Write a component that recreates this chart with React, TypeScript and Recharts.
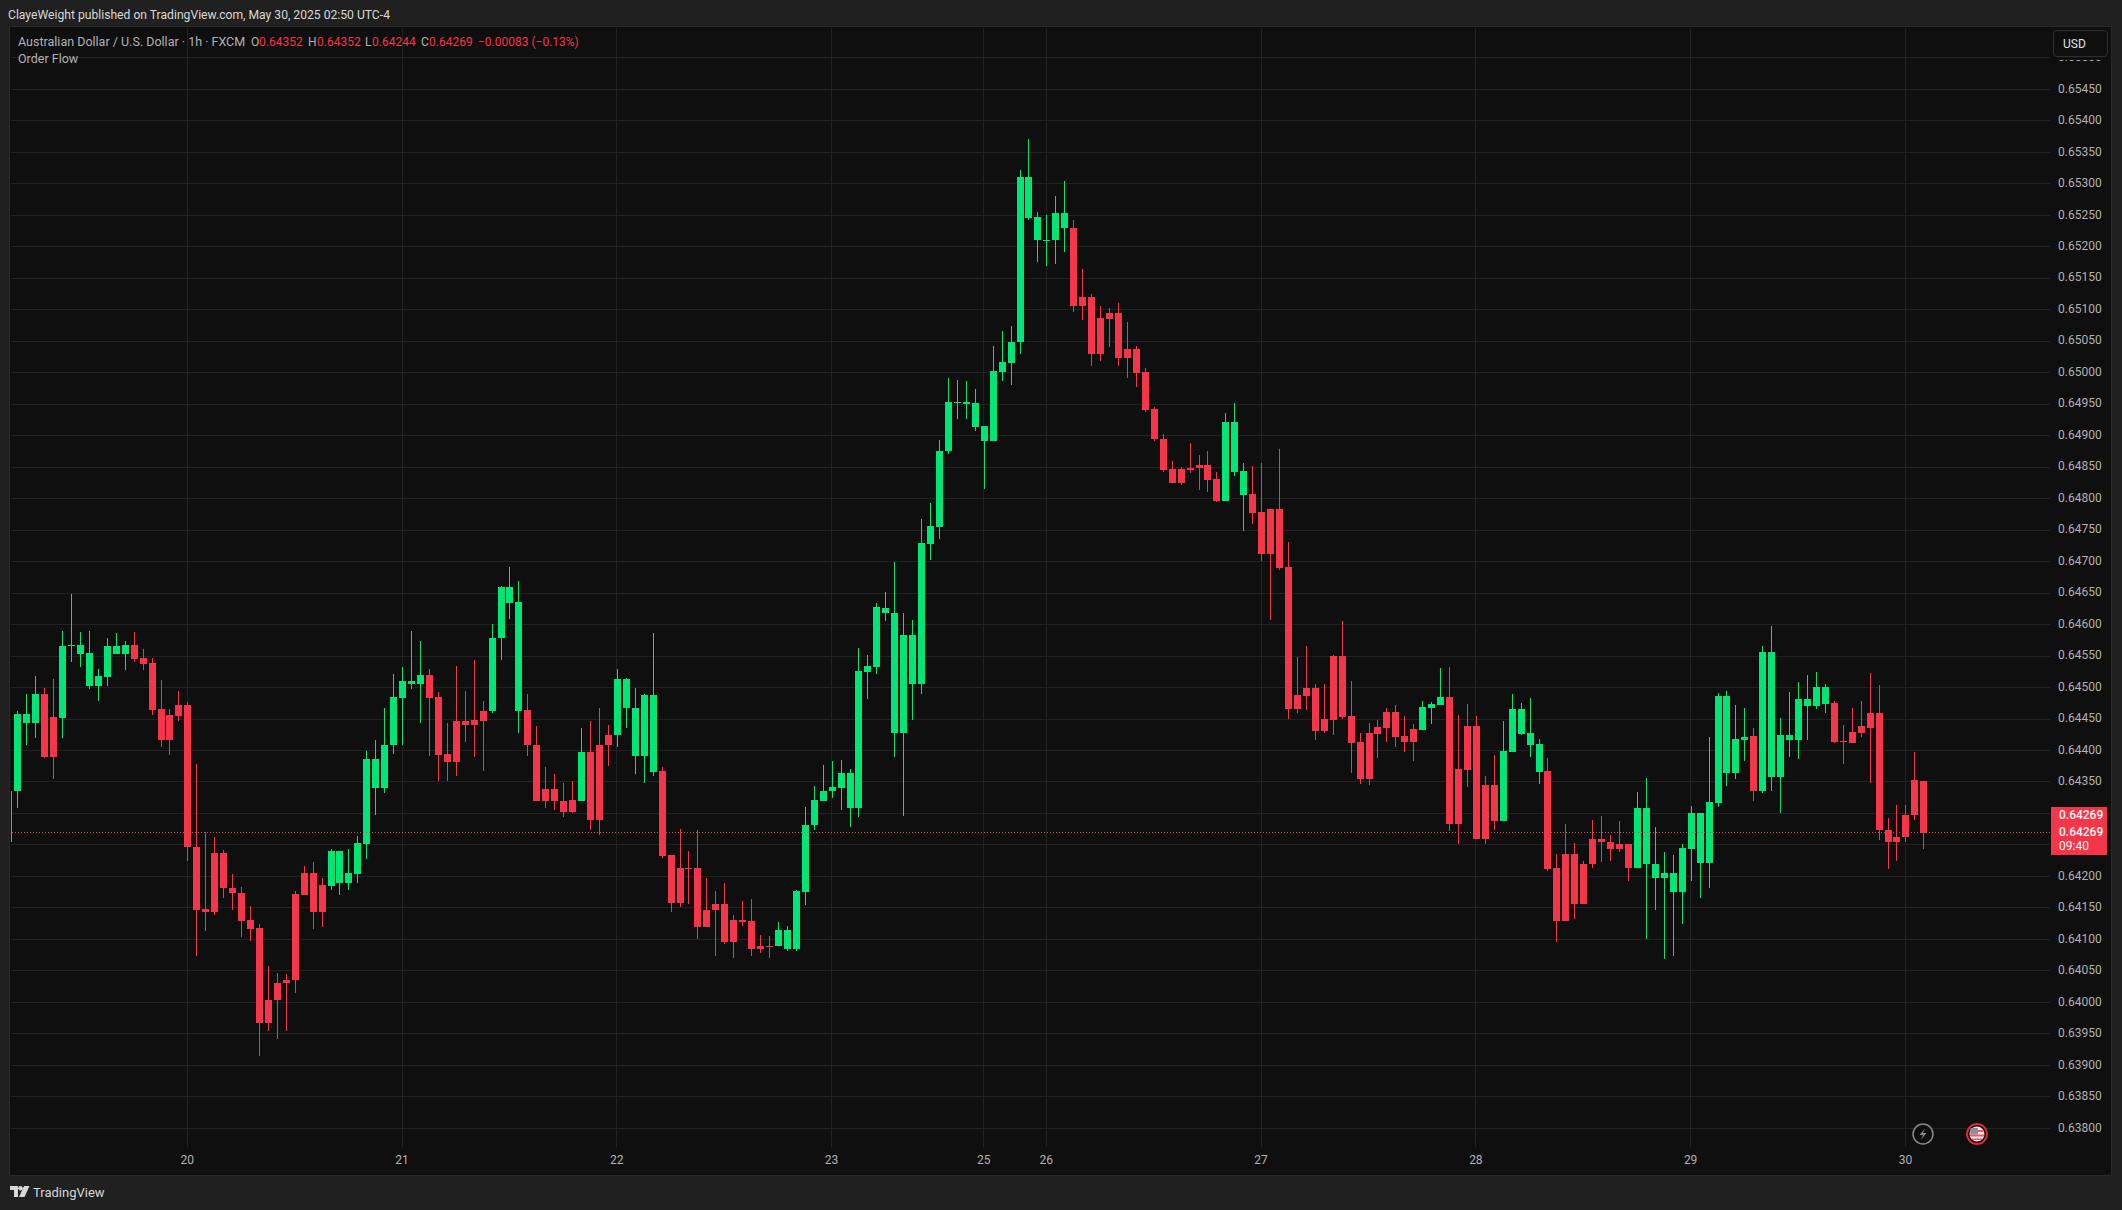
import { ComposedChart, Bar, XAxis, YAxis, CartesianGrid, ReferenceLine } from 'recharts';

// AUD/USD 1h candles, values in 1e-5 USD (64269 = 0.64269). First entry is the clipped candle at the left edge.
const opens = [64254,
  64335,64443,64443,64490,64453,64452,64566,64554,64503,64503,
  64517,64554,64554,64568,64547,64539,64466,64456,64472,64472,
  64247,64148,64237,64237,64182,64174,64131,64118,64004,64031,
  64036,64172,64206,64206,64186,64185,64190,64190,64204,64252,
  64341,64341,64408,64484,64506,64506,64520,64485,64395,64447,
  64447,64449,64463,64462,64578,64635,64463,64464,64409,64339,
  64339,64320,64321,64320,64398,64409,64425,64424,64467,64392,
  64392,64366,64368,64234,64213,64213,64213,64147,64156,64156,
  64131,64131,64129,64090,64090,64089,64084,64084,64176,64281,
  64320,64335,64341,64308,64308,64525,64533,64618,64427,64427,
  64506,64506,64728,64755,64875,64952,64951,64914,64891,64891,
  65001,65016,65048,65246,65210,65209,65210,65229,65230,65120,
  65120,65087,65095,65095,65038,65038,65001,64942,64895,64847,
  64847,64849,64853,64853,64831,64797,64842,64806,64807,64779,
  64784,64784,64692,64488,64499,64499,64450,64550,64550,64455,
  64414,64428,64437,64461,64461,64423,64434,64433,64468,64472,
  64485,64371,64439,64439,64345,64345,64288,64398,64426,64409,
  64366,64367,64213,64236,64236,64220,64259,64260,64255,64252,
  64252,64214,64219,64198,64198,64176,64176,64244,64222,64222,
  64317,64365,64365,64417,64423,64335,64358,64358,64416,64416,
  64470,64470,64474,64475,64415,64429,64439,64460,64460,64274,
  64263,64298,64353,64352];
const closes = [64336,
  64458,64458,64490,64390,64390,64566,64568,64568,64555,64518,
  64566,64566,64568,64546,64538,64465,64416,64416,64455,64246,
  64147,64143,64143,64181,64173,64130,64117,63968,63968,64003,
  64030,64035,64171,64143,64143,64240,64240,64206,64253,64387,
  64387,64409,64485,64510,64510,64520,64484,64393,64381,64381,
  64441,64441,64447,64579,64660,64660,64636,64408,64319,64319,
  64319,64303,64303,64398,64290,64290,64408,64514,64514,64468,
  64488,64488,64233,64158,64158,64212,64120,64120,64146,64096,
  64096,64128,64085,64085,64089,64115,64115,64177,64282,64321,
  64336,64342,64364,64364,64526,64534,64628,64627,64619,64583,
  64583,64730,64757,64876,64954,64954,64954,64952,64915,65003,
  65017,65049,65311,65311,65248,65211,65254,65254,65106,65106,
  65029,65029,65086,65024,65024,65000,64941,64894,64846,64825,
  64825,64846,64848,64830,64797,64922,64922,64844,64777,64712,
  64712,64690,64466,64466,64487,64431,64431,64449,64453,64412,
  64355,64355,64426,64436,64422,64414,64414,64469,64474,64485,
  64283,64283,64369,64260,64260,64288,64399,64466,64466,64428,
  64410,64212,64130,64130,64157,64157,64219,64254,64244,64244,
  64214,64309,64309,64220,64206,64206,64245,64301,64301,64318,
  64487,64487,64418,64421,64335,64556,64556,64425,64425,64482,
  64482,64501,64501,64414,64414,64412,64428,64436,64273,64255,
  64255,64262,64297,64269];
const highs = [64336,
  64463,64490,64518,64499,64514,64590,64649,64588,64590,64530,
  64579,64587,64574,64588,64561,64547,64512,64466,64495,64477,
  64379,64270,64263,64242,64204,64183,64153,64125,64058,64047,
  64045,64177,64217,64223,64198,64244,64240,64244,64264,64399,
  64417,64468,64522,64533,64590,64574,64530,64493,64444,64534,
  64495,64544,64479,64601,64661,64692,64669,64490,64439,64374,
  64363,64348,64352,64436,64447,64468,64441,64530,64515,64499,
  64490,64587,64374,64234,64275,64240,64274,64198,64177,64190,
  64139,64161,64164,64107,64105,64128,64121,64179,64310,64344,
  64377,64383,64385,64371,64563,64552,64634,64652,64700,64618,
  64607,64768,64793,64893,64992,64989,64987,64974,64915,65043,
  65066,65074,65322,65371,65255,65251,65281,65305,65243,65165,
  65125,65106,65103,65111,65081,65043,65008,64946,64903,64859,
  64851,64888,64870,64876,64843,64936,64952,64857,64852,64857,
  64784,64879,64731,64549,64566,64506,64506,64552,64606,64510,
  64428,64444,64449,64468,64472,64455,64442,64479,64477,64531,
  64533,64456,64474,64455,64360,64393,64447,64490,64476,64484,
  64418,64388,64236,64283,64253,64225,64290,64296,64266,64288,
  64252,64334,64356,64279,64239,64234,64252,64312,64301,64421,
  64491,64495,64472,64468,64436,64566,64598,64452,64493,64509,
  64520,64525,64506,64479,64441,64468,64479,64523,64504,64293,
  64314,64314,64398,64352];
const lows = [64254,
  64309,64409,64420,64388,64355,64420,64541,64533,64497,64478,
  64503,64554,64528,64541,64528,64457,64406,64393,64447,64225,
  64074,64114,64139,64165,64147,64104,64098,63915,63955,63942,
  63954,64015,64170,64117,64119,64179,64170,64179,64190,64228,
  64298,64333,64395,64408,64497,64444,64392,64351,64352,64359,
  64414,64390,64368,64460,64544,64609,64427,64392,64319,64308,
  64306,64295,64301,64320,64273,64266,64376,64406,64435,64363,
  64349,64360,64230,64143,64152,64157,64101,64120,64074,64092,
  64071,64122,64073,64079,64071,64089,64081,64082,64154,64273,
  64320,64324,64306,64278,64295,64482,64521,64606,64390,64296,
  64449,64489,64703,64736,64871,64927,64927,64908,64816,64891,
  64987,64981,65030,65242,65175,65170,65173,65192,65097,65083,
  65011,65019,65040,65011,64992,64978,64938,64891,64843,64825,
  64822,64841,64813,64811,64795,64797,64836,64749,64760,64701,
  64607,64687,64450,64460,64464,64417,64428,64425,64450,64364,
  64347,64345,64388,64414,64406,64398,64383,64433,64442,64472,
  64272,64252,64342,64260,64252,64274,64288,64398,64425,64390,
  64347,64208,64096,64129,64133,64157,64214,64223,64225,64239,
  64193,64214,64100,64147,64069,64074,64125,64192,64166,64182,
  64311,64343,64355,64384,64319,64332,64336,64300,64390,64387,
  64417,64466,64459,64412,64379,64412,64422,64349,64258,64212,
  64225,64254,64290,64244];

const dayTicks = [19, 43, 67, 91, 108, 115, 139, 163, 187, 211];
const dayLabels = ['20', '21', '22', '23', '25', '26', '27', '28', '29', '30'];
const priceTicks = [
  63800, 63850, 63900, 63950, 64000, 64050, 64100, 64150, 64200, 64250, 64300, 64350,
  64400, 64450, 64500, 64550, 64600, 64650, 64700, 64750, 64800, 64850, 64900, 64950,
  65000, 65050, 65100, 65150, 65200, 65250, 65300, 65350, 65400, 65450, 65500,
];
// these two sit behind the last price tag
const hiddenPriceTicks = [64250, 64300];
const lastPrice = 64269;
const countdown = '09:40';

const UP = '#00e676';
const DOWN = '#f5364a';
const GRID = '#222222';
const TEXT = '#b2b2b2';
const FONT = 'Roboto, sans-serif';

const candles = opens.map((open, n) => ({
  n: n - 1,
  open,
  close: closes[n],
  range: [lows[n], highs[n]],
}));

const fmtPrice = (v: number) => (v / 100000).toFixed(5);

// Bar gets the low..high span, body position is worked out from it
function Candle(props: any) {
  const { x, y, width, height, payload } = props;
  const [low, high] = payload.range;
  const perPoint = height / (high - low);
  const yOf = (v: number) => y + (high - v) * perPoint;
  const color = payload.close >= payload.open ? UP : DOWN;
  const top = yOf(Math.max(payload.open, payload.close));
  const bottom = yOf(Math.min(payload.open, payload.close));
  const mid = Math.round(x + width / 2);
  return (
    <g shapeRendering="crispEdges">
      <rect x={mid - 0.5} y={y} width={1} height={height} fill={color} />
      <rect x={mid - 3.5} y={top} width={7} height={Math.max(bottom - top, 1)} fill={color} />
    </g>
  );
}

const label = (x: number, y: number, extra: any = {}) => ({
  position: 'absolute' as const, left: x, top: y, fontFamily: FONT, fontSize: 12,
  lineHeight: '14px', color: TEXT, whiteSpace: 'nowrap' as const, ...extra,
});

export default function App() {
  return (
    <div style={{ position: 'absolute', left: 0, top: 0, width: 2122, height: 1210, background: '#202020', overflow: 'hidden' }}>
      <div style={{ position: 'absolute', left: 9, top: 26, width: 2103, height: 1150, boxSizing: 'border-box', background: '#0f0f0f', border: '1px solid #2a2a2a' }} />

      <div style={{ position: 'absolute', left: 0, top: 0 }}>
        <ComposedChart
          width={2122}
          height={1210}
          data={candles}
          margin={{ top: 28, right: 10, bottom: 34, left: 11 }}
        >
          <CartesianGrid stroke={GRID} strokeWidth={1} syncWithTicks shapeRendering="crispEdges" />
          <XAxis
            dataKey="n"
            type="number"
            domain={[-0.706, 227.16]}
            allowDataOverflow
            ticks={dayTicks}
            interval={0}
            height={29}
            tickLine={false}
            axisLine={false}
            tickSize={0}
            tickMargin={8}
            tick={{ fill: TEXT, fontSize: 12, fontFamily: FONT }}
            tickFormatter={(v: number) => dayLabels[dayTicks.indexOf(v)]}
          />
          <YAxis
            orientation="right"
            domain={[63770.3, 65547.4]}
            allowDataOverflow
            ticks={priceTicks}
            interval={0}
            width={62}
            tickLine={false}
            axisLine={false}
            tickSize={0}
            tickMargin={8}
            tick={{ fill: TEXT, fontSize: 12, fontFamily: FONT, dy: -1 }}
            tickFormatter={(v: number) => (hiddenPriceTicks.includes(v) ? '' : fmtPrice(v))}
          />
          <ReferenceLine y={lastPrice} stroke={DOWN} strokeDasharray="1 2" shapeRendering="crispEdges" />
          <Bar dataKey="range" barSize={7} shape={Candle} isAnimationActive={false} />
        </ComposedChart>
      </div>

      {/* header */}
      <div style={label(8, 8, { color: '#d8d8d8', fontSize: 12.15 })}>ClayeWeight published on TradingView.com, May 30, 2025 02:50 UTC-4</div>
      <div style={label(18, 35, { fontSize: 12.5 })}>Australian Dollar / U.S. Dollar · 1h · FXCM</div>
      <div style={label(251, 35)}>O</div>
      <div style={label(259, 35, { color: DOWN })}>0.64352</div>
      <div style={label(308, 35)}>H</div>
      <div style={label(317, 35, { color: DOWN })}>0.64352</div>
      <div style={label(365, 35)}>L</div>
      <div style={label(372, 35, { color: DOWN })}>0.64244</div>
      <div style={label(421, 35)}>C</div>
      <div style={label(429, 35, { color: DOWN })}>0.64269</div>
      <div style={label(478, 35, { color: DOWN })}>−0.00083 (−0.13%)</div>
      <div style={label(18, 52, { fontSize: 12.5 })}>Order Flow</div>

      {/* currency button hides most of the top price label */}
      <div style={{ position: 'absolute', left: 2051, top: 28, width: 60, height: 32, background: '#0f0f0f' }} />
      <div style={{ position: 'absolute', left: 2053, top: 30, width: 55, height: 27, boxSizing: 'border-box', border: '1px solid #2e2e2e', borderRadius: 4, background: '#0f0f0f' }} />
      <div style={label(2063, 37, { color: '#e0e0e0' })}>USD</div>

      {/* last price tag */}
      <div style={{ position: 'absolute', left: 2051, top: 807, width: 56, height: 48, background: DOWN }} />
      <div style={label(2059, 808, { color: '#f4f4f4', fontWeight: 500 })}>{fmtPrice(lastPrice)}</div>
      <div style={label(2059, 825, { color: '#f4f4f4', fontWeight: 500 })}>{fmtPrice(lastPrice)}</div>
      <div style={label(2059, 839, { color: '#f4f4f4' })}>{countdown}</div>

      {/* chart badges */}
      <svg style={{ position: 'absolute', left: 1910, top: 1121 }} width={80} height={26}>
        <circle cx={13} cy={13} r={10} fill="#0f0f0f" stroke="#8a8a8a" strokeWidth={1.5} />
        <path d="M15 7.5 L9.5 14 L13 14 L11 18.5 L16.5 12 L13 12 Z" fill="#8a8a8a" />
        <circle cx={67} cy={13} r={10} fill="#0f0f0f" stroke="#e02a3e" strokeWidth={1.8} />
        <circle cx={67} cy={13} r={7.5} fill="#e8e8e8" />
        <path d="M60.5 9 H73.5 V11 H60.5 Z M60 13.5 H74 V15.5 H60 Z M62 17.5 H72 V19 H62 Z" fill="#ef5a6a" />
        <rect x={60.5} y={7} width={7.5} height={6.5} fill="#8f8f98" />
      </svg>

      {/* footer logo */}
      <svg style={{ position: 'absolute', left: 10, top: 1186 }} width={20} height={12}>
        <path d="M0 0 H8 V11 H4 V4 H0 Z" fill="#d8d8d8" />
        <circle cx={10.5} cy={2.2} r={2.2} fill="#d8d8d8" />
        <path d="M14 0 H19.5 L14.5 11 H9 Z" fill="#d8d8d8" />
      </svg>
      <div style={label(33, 1185, { color: '#d8d8d8', fontSize: 13, lineHeight: '16px' })}>TradingView</div>
    </div>
  );
}
